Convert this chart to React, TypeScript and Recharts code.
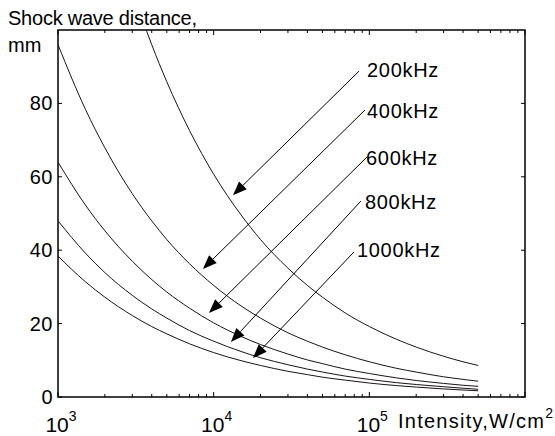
import { LineChart, Line, XAxis, YAxis, ReferenceArea, ReferenceLine } from "recharts";

// intensity, W/cm^2 (log axis)
const intensity = [1000, 1500, 2000, 3000, 4000, 5000, 7000, 10000, 15000, 20000, 30000, 40000, 50000, 70000, 100000, 150000, 200000, 300000, 400000, 500000];

// shock wave distance, mm
const d200 = [192, 156.8, 135.8, 110.9, 96.0, 85.9, 72.6, 60.7, 49.6, 42.9, 35.1, 30.4, 27.2, 22.9, 19.2, 15.7, 13.6, 11.1, 9.6, 8.6];
const d400 = [96, 78.4, 67.9, 55.4, 48.0, 42.9, 36.3, 30.4, 24.8, 21.5, 17.5, 15.2, 13.6, 11.5, 9.6, 7.8, 6.8, 5.5, 4.8, 4.3];
const d600 = [64, 52.3, 45.3, 37.0, 32.0, 28.6, 24.2, 20.2, 16.5, 14.3, 11.7, 10.1, 9.1, 7.6, 6.4, 5.2, 4.5, 3.7, 3.2, 2.9];
const d800 = [48, 39.2, 33.9, 27.7, 24.0, 21.5, 18.1, 15.2, 12.4, 10.7, 8.8, 7.6, 6.8, 5.7, 4.8, 3.9, 3.4, 2.8, 2.4, 2.1];
const d1000 = [38.4, 31.4, 27.2, 22.2, 19.2, 17.2, 14.5, 12.1, 9.9, 8.6, 7.0, 6.1, 5.4, 4.6, 3.8, 3.1, 2.7, 2.2, 1.9, 1.7];

const xTicks = [1000, 2000, 3000, 4000, 5000, 6000, 7000, 8000, 9000, 10000, 20000, 30000, 40000, 50000, 60000, 70000, 80000, 90000, 100000, 200000, 300000, 400000, 500000, 600000, 700000, 800000, 900000, 1000000];
const yTicks = [0, 20, 40, 60, 80];

// arrow annotations: label, start (near label) and tip (on curve)
const arrowLabels = ["200kHz", "400kHz", "600kHz", "800kHz", "1000kHz"];
const arrowFrom = [[85900, 88.8], [93800, 78.2], [96600, 65.4], [88300, 53.4], [79600, 39.5]];
const arrowTo = [[13300, 55.0], [8530, 34.9], [9330, 22.9], [12900, 15.0], [17900, 10.6]];
const labelShift = [[8, 6], [2, 8], [-1, 8], [4, 8], [3, 5]];

const data = intensity.map((I, i) => ({
  I,
  f200: d200[i],
  f400: d400[i],
  f600: d600[i],
  f800: d800[i],
  f1000: d1000[i],
}));

const W = 555;
const H = 436;
const LEFT = 58;
const RIGHT = 525;
const TOP = 30;
const BOTTOM = 397;
const FONT = "'Liberation Sans', Arial, sans-serif";
const INK = "#1a1414";

const XTick = (props: any) => {
  const { x, payload } = props;
  const v = payload.value;
  const lg = Math.log10(v);
  const exp = Math.round(lg);
  const major = Math.abs(lg - exp) < 1e-6;
  const len = major ? 5 : 3;
  return (
    <g>
      <line x1={x} x2={x} y1={BOTTOM} y2={BOTTOM - len} stroke="#000" strokeWidth={1} />
      <line x1={x} x2={x} y1={TOP} y2={TOP + len} stroke="#000" strokeWidth={1} />
      {major && exp < 6 && (
        <text x={x + 3} y={432} textAnchor="middle" fontFamily={FONT} fontSize={21} fill="#000">
          10<tspan dy={-11} fontSize={14}>{exp}</tspan>
        </text>
      )}
    </g>
  );
};

const YTick = (props: any) => {
  const { y, payload } = props;
  return (
    <g>
      <line x1={LEFT} x2={LEFT + 4} y1={y} y2={y} stroke="#000" strokeWidth={1} />
      <line x1={RIGHT} x2={RIGHT - 4} y1={y} y2={y} stroke="#000" strokeWidth={1} />
      <text x={53} y={y + 7} textAnchor="end" fontFamily={FONT} fontSize={20} letterSpacing={0.5} fill="#000">
        {payload.value}
      </text>
    </g>
  );
};

const makeArrow = (label: string, shift: number[]) => (p: any) => {
  const { x1, y1, x2, y2 } = p;
  const dx = x2 - x1;
  const dy = y2 - y1;
  const len = Math.sqrt(dx * dx + dy * dy);
  const ux = dx / len;
  const uy = dy / len;
  const L = 14;
  const hw = 5.5;
  const bx = x2 - ux * L;
  const by = y2 - uy * L;
  const pts = `${x2},${y2} ${bx - uy * hw},${by + ux * hw} ${bx + uy * hw},${by - ux * hw}`;
  return (
    <g>
      <line x1={x1} y1={y1} x2={bx} y2={by} stroke="#000" strokeWidth={1} />
      <polygon points={pts} fill="#000" />
      <text x={x1 + shift[0]} y={y1 + shift[1]} fontFamily={FONT} fontSize={20} letterSpacing={0.7} fill="#000">
        {label}
      </text>
    </g>
  );
};

export default function App() {
  return (
    <div style={{ position: "absolute", left: 0, top: 0, width: W, height: H, background: "#fff" }}>
      <LineChart width={W} height={H} data={data} margin={{ top: TOP, right: W - RIGHT, bottom: 0, left: 0 }}>
        <XAxis
          dataKey="I"
          type="number"
          scale="log"
          domain={[1000, 1000000]}
          ticks={xTicks}
          interval={0}
          allowDataOverflow
          axisLine={false}
          tickLine={false}
          tick={<XTick />}
          height={H - BOTTOM}
        />
        <YAxis
          type="number"
          domain={[0, 100]}
          ticks={yTicks}
          interval={0}
          allowDataOverflow
          axisLine={false}
          tickLine={false}
          tick={<YTick />}
          width={LEFT}
        />
        <ReferenceArea x1={1000} x2={1000000} y1={0} y2={100} fill="none" stroke="#000" strokeWidth={1.5} ifOverflow="visible" />
        <Line dataKey="f200" type="monotone" stroke={INK} strokeWidth={1} dot={false} isAnimationActive={false} />
        <Line dataKey="f400" type="monotone" stroke={INK} strokeWidth={1} dot={false} isAnimationActive={false} />
        <Line dataKey="f600" type="monotone" stroke={INK} strokeWidth={1} dot={false} isAnimationActive={false} />
        <Line dataKey="f800" type="monotone" stroke={INK} strokeWidth={1} dot={false} isAnimationActive={false} />
        <Line dataKey="f1000" type="monotone" stroke={INK} strokeWidth={1} dot={false} isAnimationActive={false} />
        {arrowLabels.map((lab, i) => (
          <ReferenceLine
            key={lab}
            segment={[
              { x: arrowFrom[i][0], y: arrowFrom[i][1] },
              { x: arrowTo[i][0], y: arrowTo[i][1] },
            ]}
            ifOverflow="visible"
            shape={makeArrow(lab, labelShift[i])}
          />
        ))}
      </LineChart>
      <svg width={W} height={H} style={{ position: "absolute", left: 0, top: 0, pointerEvents: "none" }}>
        <text x={8} y={25} fontFamily={FONT} fontSize={20} fill="#000" textLength={189} lengthAdjust="spacing">
          Shock wave distance,
        </text>
        <text x={8} y={52} fontFamily={FONT} fontSize={20} fill="#000">
          mm
        </text>
        <text x={398} y={428} fontFamily={FONT} fontSize={20} fill="#000" textLength={155} lengthAdjust="spacing">
          Intensity,W/cm<tspan dy={-10} fontSize={14}>2</tspan>
        </text>
      </svg>
    </div>
  );
}
